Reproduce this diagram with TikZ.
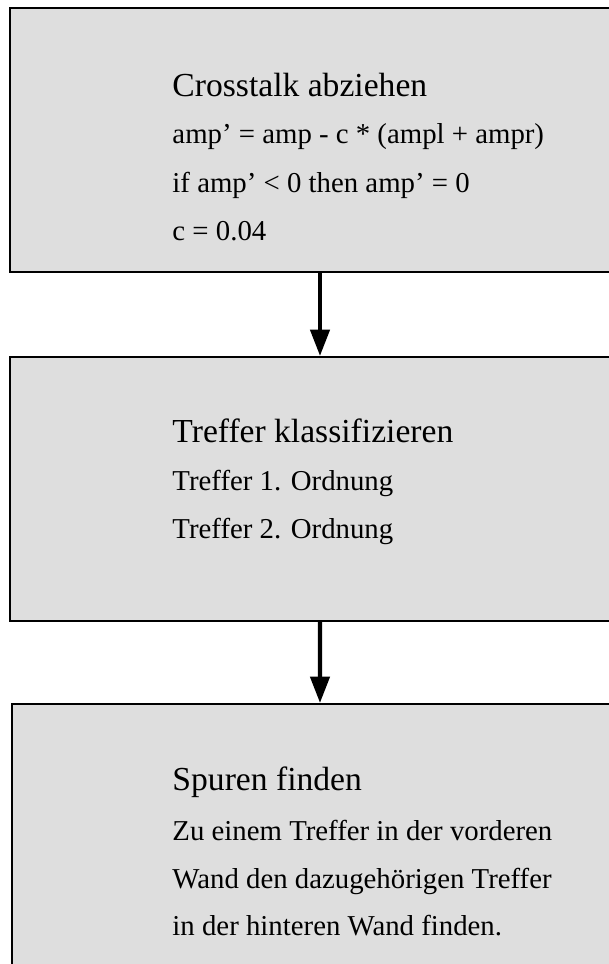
\documentclass[tikz,border=0pt]{standalone}
\usepackage{fontspec}
\setmainfont{Liberation Serif}
\usetikzlibrary{arrows.meta}
\definecolor{boxgray}{HTML}{DEDEDE}
\tikzset{
  box/.style={draw=black, fill=boxgray, line width=0.9pt, inner sep=0pt, minimum height=110pt},
  title/.style={anchor=base west, inner sep=0pt, font=\fontsize{14}{16}\selectfont},
  body/.style={anchor=base west, inner sep=0pt, font=\fontsize{12}{14}\selectfont},
  flow/.style={line width=1.7pt, -{Triangle[length=11pt,width=8pt]}, shorten >=0pt}
}
\begin{document}
\begin{tikzpicture}[x=0.416667pt,y=-0.416667pt]
\useasboundingbox (0,0) rectangle (608,964);
\node[box, minimum width=250.83pt] (b1) at (311,140) {};
\node[box, minimum width=250.83pt] (b2) at (311,489) {};
\node[box, minimum width=250pt] (b3) at (312,836) {};

\node[title] (t1) at (172,96) {Crosstalk abziehen};
\node[body] (l11) at (172,144) {amp’ = amp - c * (ampl + ampr)};
\node[body] (l12) at (172,192) {if amp’ < 0 then amp’ = 0};
\node[body] (l13) at (172,240) {c = 0.04};

\node[title] (t2) at (172,442) {Treffer klassifizieren};
\node[body] (l21) at (172,490) {Treffer 1. Ordnung};
\node[body] (l22) at (172,538) {Treffer 2. Ordnung};

\node[title] (t3) at (172,790) {Spuren finden};
\node[body] (l31) at (172,840) {Zu einem Treffer in der vorderen};
\node[body] (l32) at (172,888) {Wand den dazugehörigen Treffer};
\node[body] (l33) at (172,935) {in der hinteren Wand finden.};

\draw[flow] ([xshift=3.75pt]b1.south) -- ([xshift=3.75pt]b2.north);
\draw[flow] ([xshift=3.75pt]b2.south) -- ([xshift=3.33pt]b3.north);
\end{tikzpicture}
\end{document}
